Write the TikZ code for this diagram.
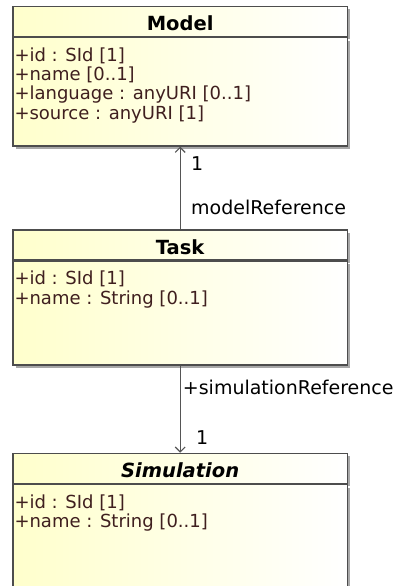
\documentclass[tikz,border=0pt]{standalone}
\usepackage{fontspec}
\setmainfont{DejaVu Sans}
\usetikzlibrary{arrows.meta,positioning,shadows}
\definecolor{ClassYellow}{HTML}{FFFFCC}
\definecolor{ClassBorder}{HTML}{4D4D4D}
\definecolor{AttrBrown}{HTML}{3F1F1F}
\definecolor{LinkGray}{HTML}{555555}
\definecolor{ShadowGray}{HTML}{A8A8A8}

\begin{document}
\begin{tikzpicture}[
    x=1pt,y=1pt,
    classbox/.style={draw=ClassBorder,line width=1.3pt,left color=ClassYellow,right color=white,minimum width=334.4pt,inner sep=0pt,
      drop shadow={shadow xshift=3pt,shadow yshift=-3pt,fill=ShadowGray,opacity=1}},
    head/.style={classbox,minimum height=30pt,text height=18.5pt,text depth=0pt,font=\fontsize{19.5}{22}\selectfont\bfseries},
    body/.style={classbox,anchor=north},
    attrs/.style={anchor=north west,align=left,inner xsep=2pt,inner ysep=10.5pt,text=AttrBrown,font=\fontsize{18}{19.3}\selectfont},
    assoc/.style={-{Straight Barb[length=5pt,width=10pt]},line width=1.1pt,draw=LinkGray},
    lbl/.style={anchor=west,inner sep=0pt,font=\fontsize{19}{22}\selectfont}
  ]
    \clip (0,0) rectangle (398,-586);

    \node[head,anchor=north west] (modelhead) at (12.3,-5.7) {Model};
    \node[body,minimum height=108.3pt] (modelbody) at (modelhead.south) {};
    \node[attrs] (modelattrs) at (modelhead.south west) {+id : SId [1]\\+name [0..1]\\+language : anyURI [0..1]\\+source : anyURI [1]};

    \node[head,anchor=north west] (taskhead) at (12.3,-229.3) {Task};
    \node[body,minimum height=103.7pt] (taskbody) at (taskhead.south) {};
    \node[attrs] (taskattrs) at (taskhead.south west) {+id : SId [1]\\+name : String [0..1]};

    \node[head,anchor=north west] (simhead) at (12.3,-452.7) {\itshape Simulation};
    \node[body,minimum height=130pt] (simbody) at (simhead.south) {};
    \node[attrs] (simattrs) at (simhead.south west) {+id : SId [1]\\+name : String [0..1]};

    \draw[assoc] (taskhead.north) --
      node[lbl,pos=0.26,xshift=10.5pt] (modelref) {modelReference}
      node[lbl,pos=0.80,xshift=10.5pt] (modelmult) {1}
      (modelbody.south);
    \draw[assoc] (taskbody.south) --
      node[lbl,pos=0.25,xshift=2.2pt] (simref) {+simulationReference}
      node[lbl,pos=0.83,xshift=15.5pt] (simmult) {1}
      (simhead.north);
  \end{tikzpicture}
\end{document}
